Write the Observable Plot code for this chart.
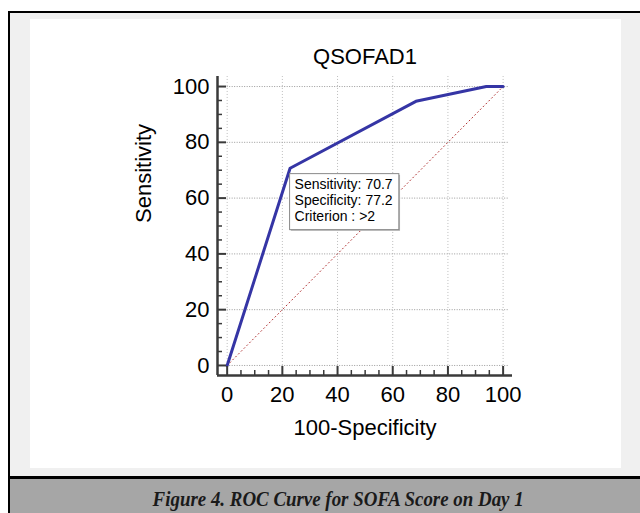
<!DOCTYPE html>
<html>
<head>
<meta charset="utf-8">
<script src="https://cdn.jsdelivr.net/npm/d3@7"></script>
<script src="https://cdn.jsdelivr.net/npm/@observablehq/plot@0.6"></script>
<style>
  html, body { margin: 0; padding: 0; background: #ffffff; width: 640px; height: 513px; overflow: hidden; }
  #outer { position: absolute; left: 8px; top: 11px; width: 700px; height: 520px; border-left: 2px solid #000; border-top: 2px solid #000; background: #f0f0f0; }
  #panel { position: absolute; left: 30px; top: 19px; width: 591px; height: 449px; background: #fff; }
  #rule { position: absolute; left: 8px; top: 476px; width: 700px; height: 3px; background: #000; }
  #band { position: absolute; left: 10px; top: 479px; width: 656px; height: 40px; background: #a6a6a6; }
  #caption { position: absolute; left: 10px; top: 479px; width: 656px; height: 34px; padding-top: 3px; line-height: 34px; text-align: center;
    font-family: "Liberation Serif", "DejaVu Serif", serif; font-weight: bold; font-style: italic; font-size: 21px; color: #1a1a1a; }
  #caption span { display: inline-block; transform: scaleX(0.9); transform-origin: center; }
</style>
</head>
<body>
<div id="outer"></div>
<div id="panel"></div>
<div id="rule"></div>
<div id="band"></div>
<div id="caption"><span>Figure 4. ROC Curve for SOFA Score on Day 1</span></div>
<script>
// ---- data ----
const titleText = "QSOFAD1";
const xLabel = "100-Specificity";
const yLabel = "Sensitivity";
const rocX = [0, 22.8, 68.4, 93.9, 100];     // 100 - specificity
const rocY = [0, 70.7, 94.7, 100, 100];      // sensitivity
const diagX = [0, 100];
const diagY = [0, 100];
const majorTicks = [0, 20, 40, 60, 80, 100];
const minorTicks = [5, 10, 15, 25, 30, 35, 45, 50, 55, 65, 70, 75, 85, 90, 95];
const cutSensitivity = 70.7;
const cutSpecificity = 77.2;
const cutCriterion = ">2";
const xDomain = [-3.5, 103.4];
const yDomain = [-3.6, 103.6];

const roc = rocX.map((x, i) => ({x, y: rocY[i]}));
const diag = diagX.map((x, i) => ({x, y: diagY[i]}));
const tip = [{x: 100 - cutSpecificity, y: cutSensitivity,
  label: `Sensitivity: ${cutSensitivity}\nSpecificity: ${cutSpecificity}\nCriterion : ${cutCriterion}`}];

const axisColor = "#3a3a3a";
const font = "'Liberation Sans', Arial, sans-serif";

const chart = Plot.plot({
  width: 591,
  height: 449,
  marginLeft: 187,
  marginRight: 109,
  marginTop: 57,
  marginBottom: 93,
  style: {background: "transparent", fontFamily: font, color: "#000", overflow: "visible"},
  x: {domain: xDomain},
  y: {domain: yDomain},
  marks: [
    // grid
    Plot.ruleX(majorTicks, {x: d => d, y1: 0, y2: yDomain[1], stroke: "#bdbdbd", strokeWidth: 1, strokeDasharray: "1,2"}),
    Plot.ruleY(majorTicks, {y: d => d, x1: 0, x2: xDomain[1], insetRight: 4, stroke: "#9a9a9a", strokeWidth: 1, strokeDasharray: "1,1.5"}),
    // reference diagonal
    Plot.line(diag, {x: "x", y: "y", stroke: "#b03030", strokeWidth: 1, strokeDasharray: "1,3"}),
    // ROC curve
    Plot.line(roc, {x: "x", y: "y", stroke: "#3535a5", strokeWidth: 3, strokeLinejoin: "round"}),
    // axis lines
    Plot.ruleX([xDomain[0]], {y1: yDomain[0], y2: yDomain[1], stroke: axisColor, strokeWidth: 2.5}),
    Plot.ruleY([yDomain[0]], {x1: xDomain[0], x2: xDomain[1], stroke: axisColor, strokeWidth: 2.5}),
    // inward ticks
    Plot.ruleY(majorTicks, {y: d => d, x1: xDomain[0], x2: xDomain[0], insetRight: -9, stroke: axisColor, strokeWidth: 2}),
    Plot.ruleY(minorTicks, {y: d => d, x1: xDomain[0], x2: xDomain[0], insetRight: -5, stroke: axisColor, strokeWidth: 1.5}),
    Plot.ruleX(majorTicks, {x: d => d, y1: yDomain[0], y2: yDomain[0], insetTop: -9, stroke: axisColor, strokeWidth: 2}),
    Plot.ruleX(minorTicks, {x: d => d, y1: yDomain[0], y2: yDomain[0], insetTop: -5, stroke: axisColor, strokeWidth: 1.5}),
    // tick labels
    Plot.axisY(majorTicks, {tickSize: 0, tickPadding: 8, fontSize: 22, label: null, fill: "#000"}),
    Plot.axisX(majorTicks, {tickSize: 0, tickPadding: 11, fontSize: 22, label: null, fill: "#000"}),
    // titles
    Plot.text([titleText], {frameAnchor: "top", lineAnchor: "middle", dy: -20, fontSize: 22, fill: "#000"}),
    Plot.text([xLabel], {frameAnchor: "bottom", lineAnchor: "middle", dy: 52, fontSize: 22, fill: "#000"}),
    Plot.text([yLabel], {frameAnchor: "left", lineAnchor: "middle", rotate: -90, dx: -74, dy: -3, fontSize: 22, fill: "#000"}),
    // criterion box text
    Plot.text(tip, {x: "x", y: "y", text: "label", textAnchor: "start", lineAnchor: "top",
      dx: 4.5, dy: 9, fontSize: 14, lineHeight: 16 / 14, fill: "#000"})
  ]
});

chart.style.position = "absolute";
chart.style.left = "30px";
chart.style.top = "19px";
document.body.appendChild(chart);

// box behind criterion text
const t = Array.from(chart.querySelectorAll("text")).find(e => e.textContent.includes("Criterion"));
if (t) {
  const bb = t.getBBox();
  const ns = "http://www.w3.org/2000/svg";
  const tr = t.getAttribute("transform") || "";
  const x0 = bb.x - 5, y0 = bb.y - 2, w = bb.width + 11, h = bb.height + 8;
  const sh = document.createElementNS(ns, "rect");
  if (tr) sh.setAttribute("transform", tr);
  sh.setAttribute("x", x0 + 1.2); sh.setAttribute("y", y0 + 1.2);
  sh.setAttribute("width", w); sh.setAttribute("height", h);
  sh.setAttribute("fill", "#b4b4b4");
  const r = document.createElementNS(ns, "rect");
  if (tr) r.setAttribute("transform", tr);
  r.setAttribute("x", x0); r.setAttribute("y", y0);
  r.setAttribute("width", w); r.setAttribute("height", h);
  r.setAttribute("fill", "#fff"); r.setAttribute("stroke", "#8a8a8a"); r.setAttribute("stroke-width", 1);
  t.parentNode.insertBefore(sh, t);
  t.parentNode.insertBefore(r, t);
}
</script>
</body>
</html>
